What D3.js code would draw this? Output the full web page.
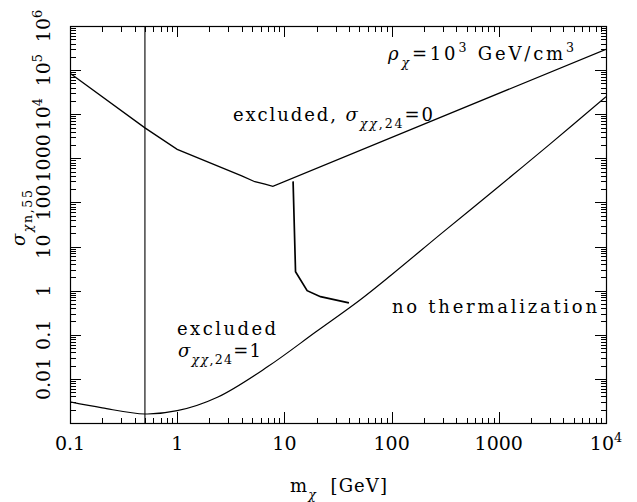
<!DOCTYPE html>
<html><head><meta charset="utf-8">
<script src="https://cdn.jsdelivr.net/npm/d3@7/dist/d3.min.js"></script>
<style>
html,body{margin:0;padding:0;background:#fff;}
svg{display:block;}
text{font-family:"DejaVu Serif",serif;fill:#000;}
</style></head>
<body>
<script>
// ---- data ----
const xTickValues = [0.1, 1, 10, 100, 1000, 10000];
const xTickLabels = [["0.1"], ["1"], ["10"], ["100"], ["1000"], ["10", "4"]];
const yTickValues = [0.01, 0.1, 1, 10, 100, 1000, 1e4, 1e5, 1e6];
const yTickLabels = [["0.01"], ["0.1"], ["1"], ["10"], ["100"], ["1000"], ["10", "4"], ["10", "5"], ["10", "6"]];

// upper bound, sigma_xx,24 = 0
const upperM = [0.1, 0.5, 1, 4, 5.3, 6.6, 7.8, 10000];
const upperS = [8.5e4, 4900, 1600, 400, 295, 260, 232, 2.96e5];
// lower bound, sigma_xx,24 = 1
const lowerM = [0.1, 0.2, 0.5, 1, 2.4, 7, 20, 50, 100, 300, 1000, 3000, 10000];
const lowerS = [0.0030, 0.0022, 0.0016, 0.0019, 0.0039, 0.019, 0.12, 0.6, 2.3, 21, 230, 2100, 2.5e4];
// no-thermalization boundary
const thermM = [12.05, 12.7, 16.3, 21.7, 40];
const thermS = [300, 2.7, 1.0, 0.73, 0.53];
// vertical line
const vlineM = [0.5];

// ---- layout ----
const W = 637, H = 502;
const L = 70, R = 606, T = 26, B = 423;

const svg = d3.select("body").append("svg").attr("width", W).attr("height", H);

const x = d3.scaleLog().domain([0.1, 1e4]).range([L, R]);
const y = d3.scaleLog().domain([1e-3, 1e6]).range([B, T]);

function minors(lo, hi) {
  const out = [];
  for (let d = lo; d <= hi; d++) for (let k = 2; k <= 9; k++) out.push(k * Math.pow(10, d));
  return out;
}
const xMinor = minors(-1, 3);
const yMinor = minors(-3, 5);
const xMajor = [0.1, 1, 10, 100, 1000, 10000];
const yMajor = [1e-3, 1e-2, 0.1, 1, 10, 100, 1000, 1e4, 1e5, 1e6];

const MAJ = 11, MIN = 5.5;
function addAxis(gen, tx, ty, vals, size) {
  const g = svg.append("g").attr("transform", `translate(${tx},${ty})`)
    .call(gen.tickValues(vals).tickSizeInner(-size).tickSizeOuter(0).tickFormat(""));
  g.select(".domain").remove();
  g.selectAll("line").attr("stroke", "#000").attr("stroke-width", 1).attr("shape-rendering", "crispEdges");
  g.selectAll("text").remove();
}
addAxis(d3.axisBottom(x), 0, B, xMajor, MAJ);
addAxis(d3.axisBottom(x), 0, B, xMinor, MIN);
addAxis(d3.axisTop(x), 0, T, xMajor, MAJ);
addAxis(d3.axisTop(x), 0, T, xMinor, MIN);
addAxis(d3.axisLeft(y), L, 0, yMajor, MAJ);
addAxis(d3.axisLeft(y), L, 0, yMinor, MIN);
addAxis(d3.axisRight(y), R, 0, yMajor, MAJ);
addAxis(d3.axisRight(y), R, 0, yMinor, MIN);

// frame
svg.append("rect").attr("x", L + 0.5).attr("y", T + 0.5).attr("width", R - L).attr("height", B - T)
  .attr("fill", "none").attr("stroke", "#000").attr("stroke-width", 1.2);

// tick labels
const FS = 19;
function addPieces(t, pieces, size) {
  t.append("tspan").text(pieces[0]);
  if (pieces.length > 1) {
    t.append("tspan").attr("dy", -8).attr("font-size", size * 0.68).text(pieces[1]);
  }
}
xTickValues.forEach((v, i) => {
  const t = svg.append("text").attr("x", x(v)).attr("y", 450).attr("text-anchor", "middle").attr("font-size", FS);
  addPieces(t, xTickLabels[i], FS);
});
yTickValues.forEach((v, i) => {
  const t = svg.append("text").attr("transform", `translate(50,${y(v)}) rotate(-90)`)
    .attr("text-anchor", "middle").attr("font-size", FS);
  addPieces(t, yTickLabels[i], FS);
});

// curves
const line = d3.line().x(d => x(d[0])).y(d => y(d[1]));
svg.append("clipPath").attr("id", "pc").append("rect")
  .attr("x", L).attr("y", T).attr("width", R - L).attr("height", B - T);
const plot = svg.append("g").attr("clip-path", "url(#pc)");

plot.append("path").datum(d3.zip(upperM, upperS)).attr("d", line)
  .attr("fill", "none").attr("stroke", "#000").attr("stroke-width", 1.3);
plot.append("path").datum(d3.zip(lowerM, lowerS)).attr("d", line.curve(d3.curveCatmullRom))
  .attr("fill", "none").attr("stroke", "#000").attr("stroke-width", 1.2);
line.curve(d3.curveLinear);
plot.append("path").datum(d3.zip(thermM, thermS)).attr("d", line)
  .attr("fill", "none").attr("stroke", "#000").attr("stroke-width", 1.7);
vlineM.forEach(m => {
  plot.append("line").attr("x1", x(m)).attr("x2", x(m)).attr("y1", T).attr("y2", B)
    .attr("stroke", "#000").attr("stroke-width", 1.1);
});

// rich text helper: segments [text, kind]; kind: n normal, g greek italic, sub, gsub (greek italic sub), sup
function rich(parent, xx, yy, segs, size, width, attrs) {
  const t = parent.append("text").attr("x", xx).attr("y", yy).attr("font-size", size)
    .attr("xml:space", "preserve");
  if (attrs) Object.entries(attrs).forEach(([k, v]) => t.attr(k, v));
  let cur = 0, n = 0;
  segs.forEach(([s, kind]) => {
    const target = (kind === "sub" || kind === "gsub") ? 7 : kind === "sup" ? -8 : 0;
    const ts = t.append("tspan").attr("dy", target - cur).text(s);
    if (kind === "sub" || kind === "gsub" || kind === "sup") ts.attr("font-size", size * 0.7);
    if (kind === "g" || kind === "gsub") ts.attr("font-style", "italic");
    cur = target;
    n += s.length;
  });
  if (width) {
    const w = t.node().getComputedTextLength();
    t.attr("letter-spacing", ((width - w) / Math.max(1, n - 1)).toFixed(2));
  }
  return t;
}
const AF = 18;
rich(svg, 388, 60, [["ρ", "g"], ["χ", "gsub"], ["=10", "n"], ["3", "sup"], [" GeV/cm", "n"], ["3", "sup"]], AF, 186);
rich(svg, 233, 121, [["excluded, ", "n"], ["σ", "g"], ["χχ", "gsub"], [",24", "sub"], ["=0", "n"]], AF, 200);
rich(svg, 177, 335, [["excluded", "n"]], AF, 99);
rich(svg, 178, 357, [["σ", "g"], ["χχ", "gsub"], [",24", "sub"], ["=1", "n"]], AF, 83);
rich(svg, 392, 313, [["no thermalization", "n"]], AF, 205);

// axis titles
rich(svg, 290, 492, [["m", "n"], ["χ", "gsub"], ["  [GeV]", "n"]], AF, 97);
rich(svg, 0, 0, [["σ", "g"], ["χ", "gsub"], ["n,55", "sub"]], AF, 56, {"transform": "translate(25,246) rotate(-90)"});
</script>
</body></html>
